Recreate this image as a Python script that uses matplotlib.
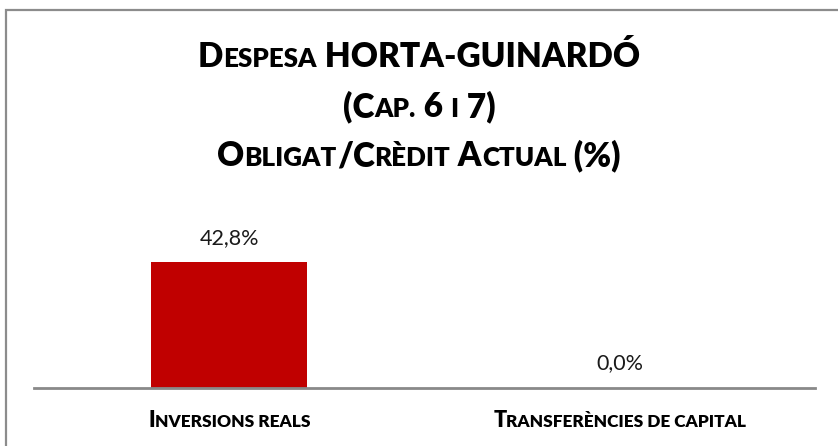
import matplotlib
matplotlib.use("Agg")
import matplotlib.pyplot as plt

# Data
categories = ["Inversions reals", "Transferències de capital"]
values = [42.8, 0.0]
value_labels = ["42,8%", "0,0%"]

# Small-caps runs: (text, is_big)
title_lines = [
    [("D", True), ("ESPESA", False), (" HORTA-GUINARDÓ", True)],
    [("(C", True), ("AP.", False), (" 6 ", True), ("I", False), (" 7)", True)],
    [("O", True), ("BLIGAT", False), ("/C", True), ("RÈDIT", False),
     (" A", True), ("CTUAL", False), (" (%)", True)],
]
category_runs = [
    [("I", True), ("NVERSIONS REALS", False)],
    [("T", True), ("RANSFERÈNCIES DE CAPITAL", False)],
]

W, H, DPI = 838, 446, 100
FONT = "Lato"
BAR_COLOR = "#C00000"
GRID_GREY = "#898989"

fig = plt.figure(figsize=(W / DPI, H / DPI), dpi=DPI)
fig.patch.set_facecolor("white")

# Outer frame (runs past the right and bottom edges)
frame = plt.Rectangle((5.5 / W, -1.0), 2.0, 1.0 + (H - 9.5) / H,
                      transform=fig.transFigure, fill=False,
                      edgecolor="#8c8c8c", linewidth=1.6)
fig.add_artist(frame)

# Plot area
ax_left, ax_right = 34, 815
ax_bottom_px = 387.5
ymax = 50.0
bar_top_px = 262
ax_h_px = (ax_bottom_px - bar_top_px) / values[0] * ymax
ax = fig.add_axes([ax_left / W, (H - ax_bottom_px) / H,
                   (ax_right - ax_left) / W, ax_h_px / H])
ax.set_facecolor("none")
x = list(range(len(categories)))
bars = ax.bar(x, values, width=0.4, color=BAR_COLOR)
ax.set_xlim(-0.5, len(categories) - 0.5)
ax.set_ylim(0, ymax)
for s in ["top", "left", "right"]:
    ax.spines[s].set_visible(False)
ax.spines["bottom"].set_color(GRID_GREY)
ax.spines["bottom"].set_linewidth(2.0)
ax.set_yticks([])
ax.set_xticks([])

for xi, v, lab in zip(x, values, value_labels):
    ax.annotate(lab, (xi, v), xytext=(0, 13), textcoords="offset points",
                ha="center", va="baseline", fontsize=15.5, family=FONT,
                color="#1a1a1a")

fig.canvas.draw()
renderer = fig.canvas.get_renderer()


def text_width(s, size, weight):
    t = fig.text(0, 0, "|" + s + "|", fontsize=size, family=FONT, weight=weight)
    t0 = fig.text(0, 0, "||", fontsize=size, family=FONT, weight=weight)
    w = t.get_window_extent(renderer).width - t0.get_window_extent(renderer).width
    t.remove()
    t0.remove()
    return w


def small_caps(runs, cx_px, base_px, big, ratio=0.78, weight="heavy"):
    sizes = [big if b else big * ratio for _, b in runs]
    widths = [text_width(s, sz, weight) for (s, _), sz in zip(runs, sizes)]
    xpos = cx_px - sum(widths) / 2
    for (s, _), sz, w in zip(runs, sizes, widths):
        fig.text(xpos / W, (H - base_px) / H, s, fontsize=sz, family=FONT,
                 weight=weight, ha="left", va="baseline", color="black")
        xpos += w


title_baselines = [67, 117, 166]
for runs, b in zip(title_lines, title_baselines):
    small_caps(runs, 419, b, 24)

# Category labels under each bar
for xi, runs in zip(x, category_runs):
    cx_px = ax.transData.transform((xi, 0))[0]
    small_caps(runs, cx_px, 427, 15.5, ratio=0.8)

fig.savefig("out.png", dpi=DPI)
